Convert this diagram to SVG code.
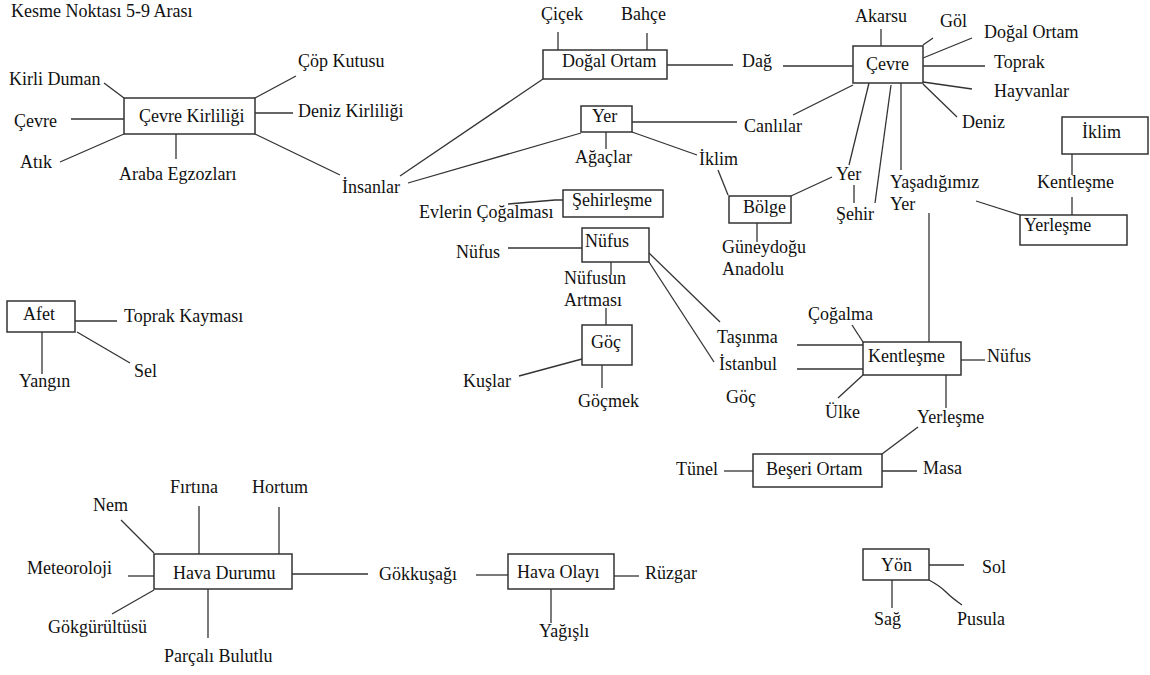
<svg xmlns="http://www.w3.org/2000/svg" width="1150" height="675" viewBox="0 0 1150 675">
<style>
text{font-family:"Liberation Serif","Times New Roman",serif;font-size:18px;fill:#111}
.box{fill:#fff;stroke:#333;stroke-width:1.5}
.c line,.c polyline,.c path{stroke:#333;stroke-width:1.3;fill:none}
</style>
<rect width="1150" height="675" fill="#fff"/>
<g class="c" id="connectors">
<line x1="124" y1="98" x2="104" y2="83"/>
<line x1="71" y1="119" x2="124" y2="119"/>
<line x1="60" y1="162" x2="124" y2="134"/>
<line x1="176" y1="134" x2="176" y2="159"/>
<line x1="255" y1="98" x2="296" y2="76"/>
<line x1="255" y1="113" x2="293" y2="113"/>
<line x1="255" y1="134" x2="340" y2="175"/>
<line x1="558" y1="32" x2="558" y2="50"/>
<line x1="647" y1="33" x2="647" y2="50"/>
<line x1="543" y1="79" x2="400" y2="176"/>
<line x1="667" y1="65" x2="733" y2="65"/>
<line x1="783" y1="66" x2="853" y2="66"/>
<line x1="881" y1="29" x2="881" y2="46"/>
<line x1="923" y1="45" x2="933" y2="38"/>
<line x1="923" y1="58" x2="972" y2="38"/>
<line x1="923" y1="66" x2="985" y2="66"/>
<line x1="923" y1="82" x2="972" y2="89"/>
<line x1="923" y1="84" x2="957" y2="117"/>
<line x1="869" y1="83" x2="849" y2="165"/>
<line x1="891" y1="85" x2="875" y2="203"/>
<line x1="854" y1="185" x2="854" y2="203"/>
<line x1="901" y1="83" x2="901" y2="170"/>
<line x1="853" y1="85" x2="793" y2="115"/>
<line x1="632" y1="122" x2="737" y2="122"/>
<line x1="606" y1="132" x2="606" y2="149"/>
<line x1="632" y1="132" x2="697" y2="155"/>
<line x1="718" y1="170" x2="728" y2="195"/>
<line x1="581" y1="133" x2="408" y2="183"/>
<line x1="791" y1="196" x2="832" y2="177"/>
<line x1="757" y1="223" x2="757" y2="242"/>
<polyline points="508,204 555,200 563,200"/>
<line x1="508" y1="248" x2="582" y2="248"/>
<line x1="611" y1="262" x2="611" y2="275"/>
<line x1="606" y1="308" x2="606" y2="325"/>
<line x1="649" y1="253" x2="720" y2="322"/>
<line x1="649" y1="262" x2="714" y2="362"/>
<line x1="519" y1="376" x2="582" y2="359"/>
<line x1="602" y1="365" x2="602" y2="388"/>
<line x1="797" y1="345" x2="863" y2="345"/>
<line x1="797" y1="369" x2="863" y2="369"/>
<line x1="852" y1="325" x2="863" y2="342"/>
<line x1="838" y1="398" x2="863" y2="375"/>
<line x1="961" y1="360" x2="985" y2="360"/>
<line x1="929" y1="213" x2="929" y2="342"/>
<line x1="946" y1="375" x2="946" y2="408"/>
<line x1="918" y1="427" x2="882" y2="454"/>
<line x1="724" y1="471" x2="753" y2="471"/>
<line x1="882" y1="471" x2="917" y2="471"/>
<line x1="1072" y1="154" x2="1072" y2="175"/>
<line x1="1072" y1="197" x2="1072" y2="215"/>
<line x1="976" y1="201" x2="1020" y2="215"/>
<line x1="75" y1="321" x2="117" y2="321"/>
<line x1="77" y1="332" x2="130" y2="363"/>
<line x1="42" y1="332" x2="42" y2="374"/>
<line x1="121" y1="520" x2="154" y2="553"/>
<line x1="199" y1="506" x2="199" y2="554"/>
<line x1="279" y1="507" x2="279" y2="554"/>
<line x1="128" y1="576" x2="154" y2="576"/>
<line x1="112" y1="614" x2="154" y2="590"/>
<line x1="208" y1="589" x2="208" y2="638"/>
<line x1="292" y1="574" x2="368" y2="574"/>
<line x1="476" y1="575" x2="508" y2="575"/>
<line x1="614" y1="576" x2="639" y2="576"/>
<line x1="551" y1="589" x2="551" y2="623"/>
<line x1="929" y1="565" x2="964" y2="565"/>
<line x1="892" y1="580" x2="892" y2="608"/>
<path d="M929,580 Q940,586 946,592 Q952,598 962,605"/>
</g>

<g id="title"><text x="11" y="17">Kesme Noktası 5-9 Arası</text></g>

<g id="cevre-kirliligi"><rect class="box" x="124" y="98" width="131" height="36"/><text x="139" y="122">Çevre Kirliliği</text></g>
<g id="kirli-duman"><text x="9" y="85">Kirli Duman</text></g>
<g id="cevre-1"><text x="14" y="127">Çevre</text></g>
<g id="atik"><text x="20" y="168">Atık</text></g>
<g id="araba-egzozlari"><text x="119" y="180">Araba Egzozları</text></g>
<g id="cop-kutusu"><text x="298" y="67">Çöp Kutusu</text></g>
<g id="deniz-kirliligi"><text x="298" y="117">Deniz Kirliliği</text></g>
<g id="insanlar"><text x="342" y="193">İnsanlar</text></g>

<g id="dogal-ortam"><rect class="box" x="543" y="50" width="124" height="29"/><text x="562" y="67">Doğal Ortam</text></g>
<g id="cicek"><text x="541" y="20">Çiçek</text></g>
<g id="bahce"><text x="621" y="20">Bahçe</text></g>
<g id="dag"><text x="742" y="67">Dağ</text></g>

<g id="cevre"><rect class="box" x="853" y="46" width="70" height="37"/><text x="866" y="70">Çevre</text></g>
<g id="akarsu"><text x="855" y="22">Akarsu</text></g>
<g id="gol"><text x="940" y="27">Göl</text></g>
<g id="dogal-ortam-2"><text x="984" y="38">Doğal Ortam</text></g>
<g id="toprak"><text x="994" y="68">Toprak</text></g>
<g id="hayvanlar"><text x="994" y="97">Hayvanlar</text></g>
<g id="deniz"><text x="962" y="128">Deniz</text></g>
<g id="canlilar"><text x="744" y="132">Canlılar</text></g>
<g id="yer-2"><text x="836" y="180">Yer</text></g>
<g id="sehir"><text x="836" y="220">Şehir</text></g>
<g id="yasadigimiz-yer"><text x="890" y="188">Yaşadığımız</text><text x="890" y="210">Yer</text></g>

<g id="yer"><rect class="box" x="581" y="106" width="51" height="26"/><text x="592" y="122">Yer</text></g>
<g id="agaclar"><text x="575" y="163">Ağaçlar</text></g>
<g id="iklim"><text x="699" y="165">İklim</text></g>

<g id="bolge"><rect class="box" x="729" y="196" width="62" height="27"/><text x="743" y="213">Bölge</text></g>
<g id="guneydogu-anadolu"><text x="722" y="253">Güneydoğu</text><text x="722" y="275">Anadolu</text></g>

<g id="sehirlesme"><rect class="box" x="563" y="190" width="100" height="27"/><text x="572" y="206">Şehirleşme</text></g>
<g id="evlerin-cogalmasi"><text x="419" y="218">Evlerin Çoğalması</text></g>

<g id="nufus"><rect class="box" x="582" y="228" width="67" height="34"/><text x="585" y="247">Nüfus</text></g>
<g id="nufus-2"><text x="456" y="258">Nüfus</text></g>
<g id="nufusun-artmasi"><text x="564" y="284">Nüfusun</text><text x="564" y="306">Artması</text></g>

<g id="goc"><rect class="box" x="582" y="325" width="50" height="40"/><text x="591" y="348">Göç</text></g>
<g id="kuslar"><text x="463" y="387">Kuşlar</text></g>
<g id="gocmek"><text x="578" y="407">Göçmek</text></g>
<g id="tasinma"><text x="717" y="343">Taşınma</text></g>
<g id="istanbul"><text x="719" y="370">İstanbul</text></g>
<g id="goc-2"><text x="726" y="403">Göç</text></g>

<g id="kentlesme"><rect class="box" x="863" y="342" width="98" height="33"/><text x="868" y="362">Kentleşme</text></g>
<g id="cogalma"><text x="808" y="320">Çoğalma</text></g>
<g id="ulke"><text x="825" y="418">Ülke</text></g>
<g id="nufus-3"><text x="987" y="362">Nüfus</text></g>
<g id="yerlesme-2"><text x="917" y="423">Yerleşme</text></g>

<g id="beseri-ortam"><rect class="box" x="753" y="454" width="129" height="33"/><text x="766" y="475">Beşeri Ortam</text></g>
<g id="tunel"><text x="676" y="475">Tünel</text></g>
<g id="masa"><text x="923" y="474">Masa</text></g>

<g id="iklim-2"><rect class="box" x="1062" y="117" width="86" height="37"/><text x="1082" y="138">İklim</text></g>
<g id="kentlesme-2"><text x="1037" y="188">Kentleşme</text></g>
<g id="yerlesme"><rect class="box" x="1020" y="215" width="107" height="30"/><text x="1024" y="231">Yerleşme</text></g>

<g id="afet"><rect class="box" x="7" y="301" width="68" height="31"/><text x="23" y="320">Afet</text></g>
<g id="toprak-kaymasi"><text x="124" y="322">Toprak Kayması</text></g>
<g id="sel"><text x="134" y="377">Sel</text></g>
<g id="yangin"><text x="19" y="387">Yangın</text></g>

<g id="hava-durumu"><rect class="box" x="154" y="554" width="138" height="35"/><text x="173" y="579">Hava Durumu</text></g>
<g id="nem"><text x="93" y="511">Nem</text></g>
<g id="firtina"><text x="170" y="493">Fırtına</text></g>
<g id="hortum"><text x="252" y="493">Hortum</text></g>
<g id="meteoroloji"><text x="27" y="574">Meteoroloji</text></g>
<g id="gokgurultusu"><text x="48" y="633">Gökgürültüsü</text></g>
<g id="parcali-bulutlu"><text x="164" y="662">Parçalı Bulutlu</text></g>
<g id="gokkusagi"><text x="379" y="580">Gökkuşağı</text></g>

<g id="hava-olayi"><rect class="box" x="508" y="554" width="106" height="35"/><text x="517" y="578">Hava Olayı</text></g>
<g id="ruzgar"><text x="645" y="579">Rüzgar</text></g>
<g id="yagisli"><text x="539" y="637">Yağışlı</text></g>

<g id="yon"><rect class="box" x="863" y="549" width="66" height="31"/><text x="881" y="571">Yön</text></g>
<g id="sol"><text x="982" y="573">Sol</text></g>
<g id="sag"><text x="874" y="625">Sağ</text></g>
<g id="pusula"><text x="957" y="625">Pusula</text></g>
</svg>
